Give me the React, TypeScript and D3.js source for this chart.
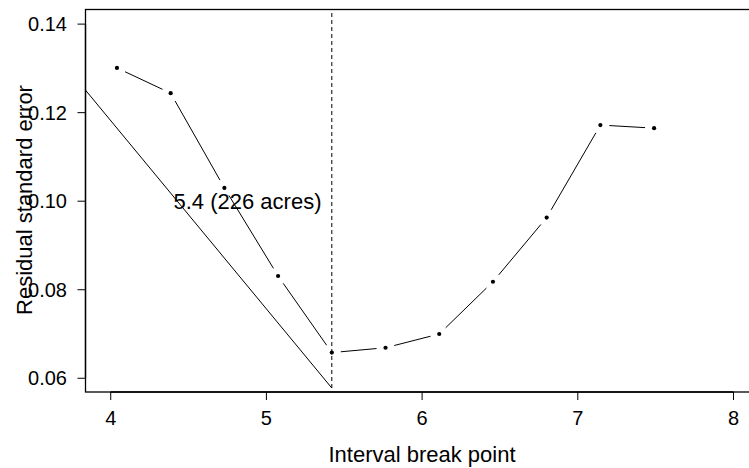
import React from "react";
import * as d3 from "d3";

// Residual standard error for each candidate interval break point
const breakPoints = [4.04, 4.385, 4.73, 5.075, 5.42, 5.765, 6.11, 6.455, 6.8, 7.145, 7.49];
const residualSE = [0.1301, 0.1244, 0.1030, 0.0831, 0.0658, 0.0669, 0.0700, 0.0818, 0.0963, 0.1172, 0.1165];

// Reference line running down to the chosen break
const refLineX = [3.8, 5.42];
const refLineY = [0.1267, 0.0578];

const chosenBreak = 5.42;
const chosenLabel = "5.4 (226 acres)";

const xTicks = [4, 5, 6, 7, 8];
const yTicks = [0.06, 0.08, 0.1, 0.12, 0.14];
const yTickLabels = ["0.06", "0.08", "0.10", "0.12", "0.14"];

const W = 749;
const H = 468;
const left = 85.5;
const right = 750;
const top = 9.5;
const bottom = 392;

export default function App() {
  const x = d3.scaleLinear().domain([3.838, 8.106]).range([left, right]);
  const y = d3.scaleLinear().domain([0.0569, 0.1433]).range([bottom, top]);

  const pts = breakPoints.map((b, i) => [x(b), y(residualSE[i])] as [number, number]);
  const gap = 9;
  const segs = pts.slice(1).map((p, i) => {
    const a = pts[i];
    const dx = p[0] - a[0];
    const dy = p[1] - a[1];
    const len = Math.hypot(dx, dy);
    const ux = dx / len;
    const uy = dy / len;
    return [a[0] + ux * gap, a[1] + uy * gap, p[0] - ux * gap, p[1] - uy * gap];
  });

  const font = "'Liberation Sans', Arial, sans-serif";

  return (
    <svg width={W} height={H} style={{ position: "absolute", left: 0, top: 0, background: "#fff" }} fontFamily={font}>
      <defs>
        <clipPath id="plotClip">
          <rect x={left} y={top} width={right - left} height={bottom - top} />
        </clipPath>
      </defs>
      <rect width={W} height={H} fill="#fff" />

      {/* plot box */}
      <rect x={left} y={top} width={right - left} height={bottom - top} fill="none" stroke="#000" strokeWidth={1.3} />

      {/* x axis */}
      <line x1={x(xTicks[0])} x2={x(xTicks[xTicks.length - 1])} y1={bottom} y2={bottom} stroke="#000" strokeWidth={1.3} />
      {xTicks.map((t) => (
        <g key={t}>
          <line x1={x(t)} x2={x(t)} y1={bottom} y2={bottom + 8} stroke="#000" strokeWidth={1} />
          <text x={x(t)} y={425} textAnchor="middle" fontSize={20} fill="#000">{t}</text>
        </g>
      ))}

      {/* y axis */}
      <line x1={left} x2={left} y1={y(yTicks[0])} y2={y(yTicks[yTicks.length - 1])} stroke="#000" strokeWidth={1.3} />
      {yTicks.map((t, i) => (
        <g key={t}>
          <line x1={left - 8} x2={left} y1={y(t)} y2={y(t)} stroke="#000" strokeWidth={1} />
          <text x={67} y={y(t)} dy="0.36em" textAnchor="end" fontSize={20} fill="#000">{yTickLabels[i]}</text>
        </g>
      ))}

      {/* axis titles */}
      <text x={422} y={461.5} textAnchor="middle" fontSize={22} fill="#000">Interval break point</text>
      <text transform={`translate(32,200) rotate(-90)`} textAnchor="middle" fontSize={22} fill="#000">Residual standard error</text>

      <g clipPath="url(#plotClip)">
        {/* reference line */}
        <line x1={x(refLineX[0])} y1={y(refLineY[0])} x2={x(refLineX[1])} y2={y(refLineY[1])} stroke="#000" strokeWidth={1} />
        {/* chosen break */}
        <line x1={x(chosenBreak)} x2={x(chosenBreak)} y1={y(refLineY[1])} y2={top} stroke="#000" strokeWidth={1} strokeDasharray="4,3" />
        {/* series with gaps around points */}
        {segs.map((s, i) => (
          <line key={i} x1={s[0]} y1={s[1]} x2={s[2]} y2={s[3]} stroke="#000" strokeWidth={1} />
        ))}
        {pts.map((p, i) => (
          <circle key={i} cx={p[0]} cy={p[1]} r={2.1} fill="#000" />
        ))}
      </g>

      <text x={247.5} y={209} textAnchor="middle" fontSize={22} fill="#000">{chosenLabel}</text>
    </svg>
  );
}
